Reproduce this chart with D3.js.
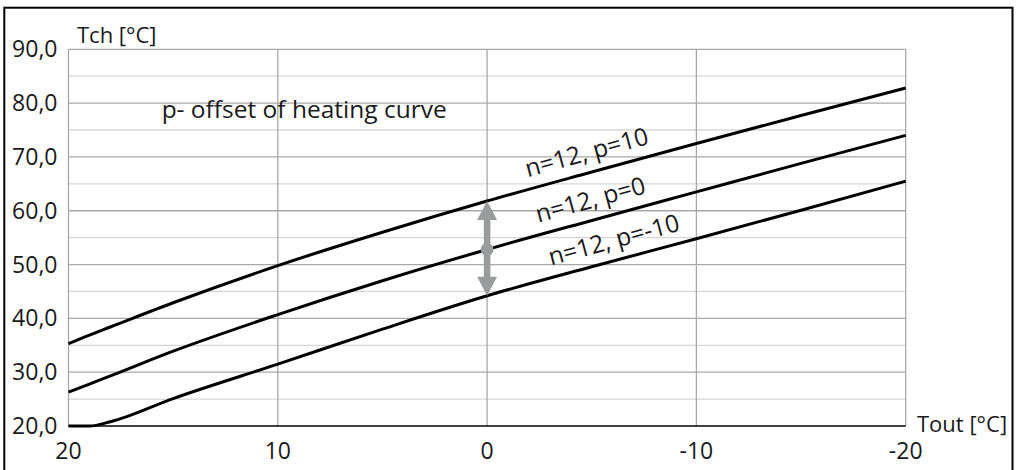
<!DOCTYPE html>
<html>
<head>
<meta charset="utf-8">
<script src="https://cdn.jsdelivr.net/npm/d3@7"></script>
<style>
  body { margin: 0; background: #fff; }
  svg text { font-family: "Open Sans", sans-serif; fill: #1a1a1a; }
</style>
</head>
<body>
<div id="chart"></div>
<script>
// outdoor temperature (x) and heating water temperature (y) for n=12
const tout = [20, 19, 18, 15, 10, 5, 0, -5, -10, -15, -20];
const tchP10 = [35.3, 36.9, 38.4, 42.9, 49.8, 56.0, 61.8, 67.2, 72.5, 77.7, 82.8];
const tchP0 = [26.3, 27.8, 29.3, 33.9, 40.7, 47.0, 52.8, 58.2, 63.5, 68.8, 74.0];
const tchM10 = [20.0, 20.0, 20.8, 25.1, 31.5, 38.0, 44.2, 49.6, 54.8, 60.1, 65.5];
const curveNames = ['n=12, p=10', 'n=12, p=0', 'n=12, p=-10'];
const xTicks = [20, 10, 0, -10, -20];
const yTicks = [20, 30, 40, 50, 60, 70, 80, 90];

const width = 1017, height = 470;
const margin = { top: 49.3, right: 111.3, bottom: 44, left: 68.5 };

const loc = d3.formatLocale({ decimal: ',', thousands: '.', grouping: [3], currency: ['', ''], minus: '-' });
const fmtY = loc.format('.1f');
const fmtX = loc.format('d');

const svg = d3.select('#chart').append('svg')
  .attr('width', width)
  .attr('height', height);

// outer frame
svg.append('rect')
  .attr('x', 4.3).attr('y', 7.7)
  .attr('width', 1008.2).attr('height', 480)
  .attr('fill', 'none').attr('stroke', '#000').attr('stroke-width', 2);

const x = d3.scaleLinear().domain([20, -20]).range([margin.left, width - margin.right]);
const y = d3.scaleLinear().domain([20, 90]).range([height - margin.bottom, margin.top]);

// horizontal grid (every 5, darker on tens)
const minor = d3.range(25, 91, 5);
svg.append('g').selectAll('line')
  .data(minor)
  .join('line')
  .attr('x1', x(20)).attr('x2', x(-20))
  .attr('y1', d => y(d)).attr('y2', d => y(d))
  .attr('stroke', d => d % 10 === 0 ? '#a8a8a8' : '#d6d6d6')
  .attr('stroke-width', 1.3);

// vertical grid
svg.append('g').selectAll('line')
  .data(xTicks)
  .join('line')
  .attr('x1', d => x(d)).attr('x2', d => x(d))
  .attr('y1', y(20)).attr('y2', y(90))
  .attr('stroke', '#a8a8a8')
  .attr('stroke-width', 1.3);

// x axis line
svg.append('line')
  .attr('x1', x(20)).attr('x2', x(-20))
  .attr('y1', y(20)).attr('y2', y(20))
  .attr('stroke', '#000').attr('stroke-width', 1.5);

// tick labels
svg.append('g').selectAll('text')
  .data(yTicks)
  .join('text')
  .attr('x', margin.left - 11)
  .attr('y', d => y(d))
  .attr('dy', '0.35em')
  .attr('text-anchor', 'end')
  .style('font-size', '23px')
  .text(d => fmtY(d));

svg.append('g').selectAll('text')
  .data(xTicks)
  .join('text')
  .attr('x', d => x(d))
  .attr('y', y(20) + 33)
  .attr('text-anchor', 'middle')
  .style('font-size', '23px')
  .text(d => fmtX(d));

// axis titles
svg.append('text')
  .attr('x', 77).attr('y', 43)
  .style('font-size', '22px')
  .text('Tch [°C]');

svg.append('text')
  .attr('x', 917).attr('y', 431.5)
  .style('font-size', '22px')
  .text('Tout [°C]');

svg.append('text')
  .attr('x', x(15.55)).attr('y', y(77.3))
  .style('font-size', '24.5px')
  .text('p- offset of heating curve');

// curves
const series = [tchP10, tchP0, tchM10];
const line = d3.line()
  .x(d => x(d[0]))
  .y(d => y(d[1]))
  .curve(d3.curveMonotoneX);

svg.append('g').selectAll('path')
  .data(series)
  .join('path')
  .attr('d', s => line(tout.map((t, i) => [t, s[i]])))
  .attr('fill', 'none')
  .attr('stroke', '#000')
  .attr('stroke-width', 3);

// curve labels, rotated along the curve
const labelAt = [-2.1, -2.6, -3.2];
series.forEach((s, k) => {
  const t = labelAt[k];
  const v = d3.scaleLinear().domain(tout).range(s)(t);
  const v2 = d3.scaleLinear().domain(tout).range(s)(t - 6);
  const ang = Math.atan2(y(v2) - y(v), x(t - 6) - x(t)) * 180 / Math.PI;
  svg.append('text')
    .attr('transform', `translate(${x(t)},${y(v)}) rotate(${ang})`)
    .attr('y', -12)
    .style('font-size', '24.5px')
    .text(curveNames[k]);
});

// offset arrow at Tout = 0
const i0 = tout.indexOf(0);
const ax = x(0);
const yTop = y(tchP10[i0]), yMid = y(tchP0[i0]), yBot = y(tchM10[i0]);
const head = 19, hw = 10;
const arrow = svg.append('g').attr('fill', '#9a9b9d').attr('stroke', 'none');
arrow.append('rect')
  .attr('x', ax - 3.3).attr('y', yTop + head - 1)
  .attr('width', 6.6).attr('height', yBot - yTop - 2 * head + 2);
arrow.append('path')
  .attr('d', `M${ax},${yTop} L${ax + hw},${yTop + head} L${ax - hw},${yTop + head} Z`);
arrow.append('path')
  .attr('d', `M${ax},${yBot} L${ax + hw},${yBot - head} L${ax - hw},${yBot - head} Z`);
arrow.append('circle')
  .attr('cx', ax).attr('cy', yMid).attr('r', 6.5);
</script>
</body>
</html>
